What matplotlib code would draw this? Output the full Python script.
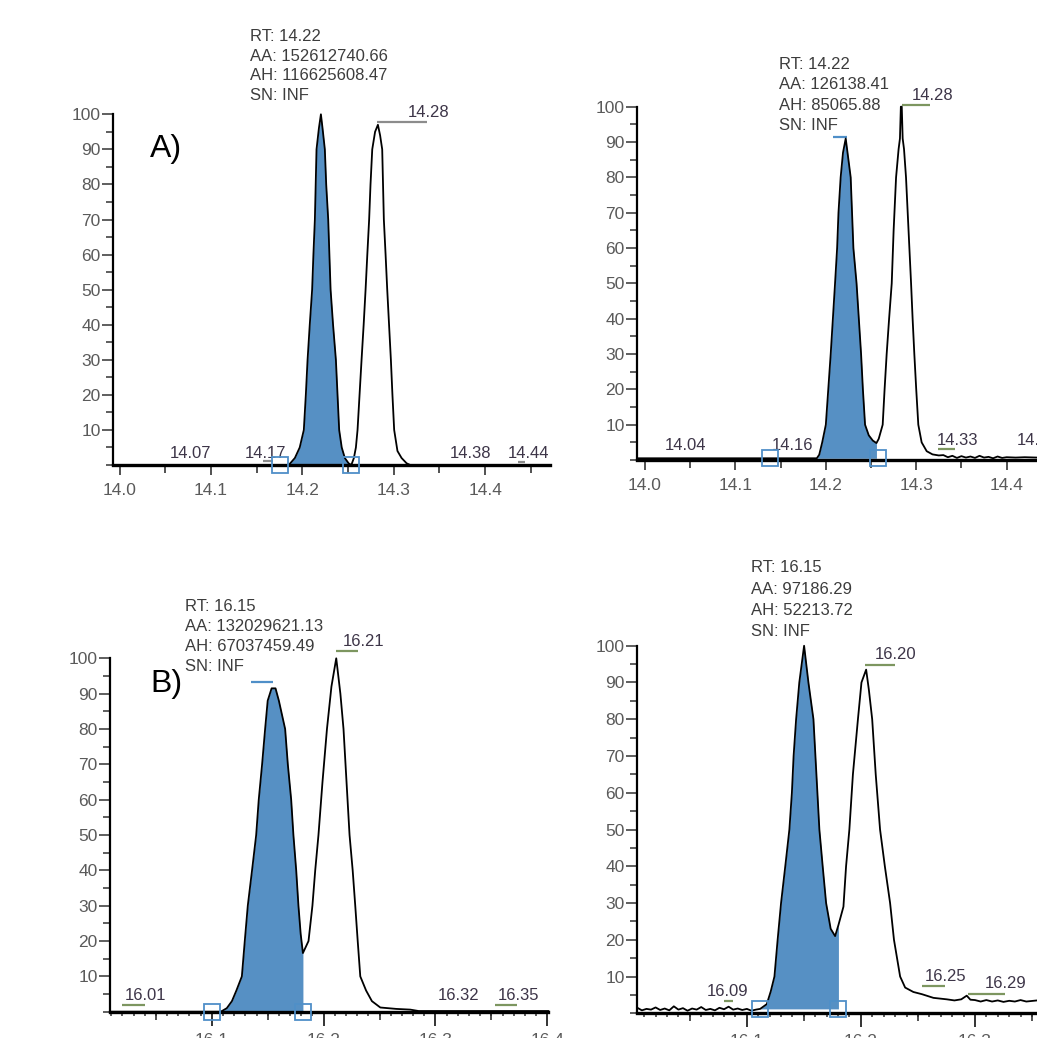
import numpy as np
import matplotlib.pyplot as plt
from matplotlib.ticker import MultipleLocator

plt.rcParams['font.family'] = ['Liberation Sans', 'DejaVu Sans']

# ---- panel A (top left) ----
tA = [13.993, 14.185, 14.1917, 14.197, 14.2015, 14.2037, 14.2056, 14.208, 14.2106, 14.212,
      14.2136, 14.2145, 14.2154, 14.218, 14.2202, 14.222, 14.2245, 14.226, 14.2282, 14.2295,
      14.2308, 14.2335, 14.2366, 14.2384, 14.2402, 14.243, 14.2464, 14.2505, 14.2535, 14.2563,
      14.2585, 14.2603, 14.2625, 14.2647, 14.267, 14.2691, 14.271, 14.273, 14.2745, 14.2764,
      14.2795, 14.2826, 14.285, 14.2873, 14.2882, 14.2891, 14.291, 14.2928, 14.2948, 14.2968,
      14.2985, 14.3004, 14.304, 14.3085, 14.314, 14.318, 14.471]
yA = [0, 0, 2, 5, 10, 20, 30, 40, 50, 60,
      70, 80, 90, 96, 100, 96, 90, 80, 70, 60,
      50, 40, 30, 20, 10, 5, 2, 0.5, 0, 2,
      5, 10, 20, 30, 40, 50, 60, 70, 80, 90,
      95, 97, 94, 90, 80, 70, 60, 50, 40, 30,
      20, 10, 4, 2, 0.5, 0, 0]

# ---- panel B (top right) ----
tB = [13.9915, 14.19, 14.1927, 14.196, 14.2, 14.2027, 14.2054, 14.2078, 14.2102, 14.2125,
      14.214, 14.2164, 14.219, 14.222, 14.2245, 14.2275, 14.229, 14.2305, 14.234, 14.2365,
      14.239, 14.241, 14.2434, 14.2475, 14.252, 14.256, 14.2585, 14.2629, 14.265, 14.2673,
      14.27, 14.2729, 14.275, 14.2777, 14.2805, 14.282, 14.283, 14.284, 14.285, 14.2865,
      14.2887, 14.2915, 14.2943, 14.296, 14.2979, 14.3, 14.3023, 14.306, 14.3116, 14.318,
      14.325, 14.33, 14.335, 14.34, 14.345, 14.35, 14.355, 14.36, 14.365, 14.37,
      14.375, 14.38, 14.385, 14.39, 14.395, 14.4, 14.41, 14.42, 14.4336]
yB = [0.5, 0.5, 1.5, 5, 10, 20, 30, 40, 50, 60,
      70, 80, 87, 91, 86, 80, 70, 60, 50, 40,
      30, 20, 10, 7, 5.5, 4.8, 6, 10, 20, 30,
      40, 50, 65, 80, 88, 91, 100, 100, 91, 88,
      80, 65, 50, 40, 30, 20, 10, 5, 2.5, 1.6,
      1.3, 1.4, 0.8, 1.2, 0.6, 1.1, 0.7, 1.0, 0.6, 1.2,
      0.7, 0.9, 0.5, 1.0, 0.6, 0.8, 0.7, 0.8, 0.7]

# ---- panel C (bottom left) ----
tC = [16.009, 16.108, 16.1134, 16.118, 16.122, 16.1269, 16.1295, 16.1322, 16.136, 16.1397,
      16.142, 16.145, 16.1477, 16.150, 16.1535, 16.157, 16.160, 16.1656, 16.168, 16.171,
      16.173, 16.1755, 16.1775, 16.1795, 16.1815, 16.1865, 16.19, 16.1925, 16.1954, 16.199,
      16.203, 16.207, 16.2113, 16.215, 16.2178, 16.2205, 16.2232, 16.226, 16.2283, 16.2305,
      16.2328, 16.238, 16.2432, 16.2507, 16.265, 16.2775, 16.285, 16.401]
yC = [0, 0, 1, 3, 6, 10, 20, 30, 40, 50,
      60, 70, 80, 88, 91.5, 91.5, 88, 80, 70, 60,
      50, 40, 30, 22, 16.6, 20, 30, 40, 50, 65,
      80, 92, 100, 90, 80, 65, 50, 40, 30, 20,
      10, 6, 3, 1.2, 0.8, 0.6, 0.2, 0.2]

# ---- panel D (bottom right) ----
tD = [16.004, 16.008, 16.012, 16.016, 16.020, 16.024, 16.028, 16.032, 16.036, 16.040,
      16.044, 16.048, 16.052, 16.056, 16.060, 16.064, 16.068, 16.072, 16.076, 16.080,
      16.084, 16.088, 16.092, 16.096, 16.100, 16.104, 16.108, 16.1117,
      16.1175, 16.121, 16.1242, 16.127, 16.13, 16.1337, 16.1373, 16.1395, 16.141, 16.1432,
      16.146, 16.1502, 16.154, 16.1584, 16.161, 16.1636, 16.1665, 16.1695, 16.1735, 16.1774,
      16.1803, 16.1847, 16.187, 16.1899, 16.193, 16.1974, 16.2005, 16.2046, 16.207, 16.2099,
      16.213, 16.2168, 16.221, 16.2256, 16.229, 16.2344, 16.2388, 16.246, 16.2535, 16.2636,
      16.2753, 16.282, 16.288, 16.2928, 16.296, 16.30, 16.305, 16.31, 16.315, 16.32,
      16.325, 16.33, 16.335, 16.34, 16.345, 16.3544]
yD = [1.5, 0.8, 1.2, 1.0, 1.6, 0.9, 1.3, 0.8, 1.9, 1.0,
      1.4, 0.7, 1.3, 1.0, 1.7, 0.9, 1.2, 0.8, 1.5, 1.1,
      1.8, 1.0, 1.3, 0.9, 1.2, 0.7, 1.0, 1.2,
      2.5, 6, 10, 20, 30, 40, 50, 60, 70, 80,
      90, 100, 90, 80, 65, 50, 40, 30, 23, 21,
      24, 29, 40, 50, 65, 80, 90, 93.5, 88, 80,
      65, 50, 40, 30, 20, 10, 7, 5.8, 5.2, 4.2,
      3.8, 3.5, 3.8, 4.8, 3.7, 3.6, 3.2, 3.6, 3.2, 3.5,
      3.1, 3.4, 3.2, 3.6, 3.2, 3.5]

# integration boundaries (the blue boxes) and baseline level
boxesA, baseA = [14.175, 14.2535], 0
boxesB, baseB = [14.1377, 14.258], 0.5
boxesC, baseC = [16.1, 16.1815], 0
boxesD, baseD = [16.1117, 16.1803], 1.2

# peak info text
infoA = ["RT: 14.22", "AA: 152612740.66", "AH: 116625608.47", "SN: INF"]
infoB = ["RT: 14.22", "AA: 126138.41", "AH: 85065.88", "SN: INF"]
infoC = ["RT: 16.15", "AA: 132029621.13", "AH: 67037459.49", "SN: INF"]
infoD = ["RT: 16.15", "AA: 97186.29", "AH: 52213.72", "SN: INF"]

# other peak labels: (text, x, y)
labelsA = [("14.28", 14.3154, 100.6), ("14.07", 14.0548, 3.4), ("14.17", 14.1369, 3.4),
           ("14.38", 14.3614, 3.4), ("14.44", 14.425, 3.4)]
labelsB = [("14.28", 14.2954, 103.2), ("14.04", 14.0221, 4.2), ("14.16", 14.1405, 4.2),
           ("14.33", 14.323, 5.6), ("14.42", 14.4115, 5.6)]
labelsC = [("16.21", 16.2167, 104.8), ("16.01", 16.0224, 4.7), ("16.32", 16.3017, 4.7),
           ("16.35", 16.3554, 4.7)]
labelsD = [("16.20", 16.2124, 97.5), ("16.09", 16.0652, 5.8), ("16.25", 16.2563, 9.9),
           ("16.29", 16.3089, 8.2)]

# small marker lines under labels: (x0, x1, y, colour)
GREEN, GREY, BLUE = '#7d9660', '#8c8c8c', '#4f8fc8'
marksA = [(14.2811, 14.3359, 97.8, GREY), (14.1566, 14.1676, 1.1, GREY), (14.4359, 14.4436, 0.9, GREY)]
marksB = [(14.2843, 14.3153, 100.6, GREEN), (14.3241, 14.343, 3.1, GREEN), (14.208, 14.2235, 91.4, BLUE)]
marksC = [(16.2113, 16.231, 102, GREEN), (16.0197, 16.0403, 1.9, GREEN), (16.3536, 16.3733, 1.9, GREEN),
          (16.1352, 16.1549, 93.3, BLUE)]
marksD = [(16.2037, 16.23, 94.7, GREEN), (16.0801, 16.088, 3.4, GREEN), (16.2537, 16.2738, 7.4, GREEN),
          (16.2939, 16.3264, 5.2, GREEN)]

FILL = '#5690c4'
TXT = '#3d3548'
TICKC = '#5a5a5a'

fig = plt.figure(figsize=(10.37, 10.38), dpi=100)


def panel(rect, t, y, boxes, base, xlim, info, info_x, info_y, info_dy, labels, marks, fine_ticks):
    ax = fig.add_axes(rect)
    t = np.array(t)
    y = np.array(y)
    sel = (t >= boxes[0] - 1e-9) & (t <= boxes[1] + 1e-9)
    ax.fill_between(t, y, base, where=sel, color=FILL, lw=0, clip_on=False)
    ax.plot(t, y, color='black', lw=1.3, clip_on=False, zorder=3)
    ax.plot(boxes, [base, base], ls='none', marker='s', ms=12, mfc='none', mec=BLUE,
            mew=1.3, clip_on=False, zorder=4)
    ax.set_xlim(*xlim)
    ax.set_ylim(0, 100)
    for s in ['top', 'right']:
        ax.spines[s].set_visible(False)
    ax.spines['left'].set_linewidth(1.6)
    ax.spines['bottom'].set_linewidth(2.4)
    ax.set_yticks(range(10, 101, 10))
    ax.yaxis.set_minor_locator(MultipleLocator(5))
    ax.xaxis.set_major_locator(MultipleLocator(0.1))
    ax.xaxis.set_major_formatter(plt.FuncFormatter(lambda v, p: f"{v:.1f}"))
    ax.tick_params(axis='y', which='major', length=8, width=1.1, color='#333333',
                   labelsize=12.5, labelcolor=TICKC, pad=1)
    ax.tick_params(axis='y', which='minor', length=5, width=1.1, color='#333333')
    if fine_ticks:
        ax.xaxis.set_minor_locator(MultipleLocator(0.01))
        ax.tick_params(axis='x', which='major', length=10, width=1.4, color='#333333',
                       labelsize=12.5, labelcolor=TICKC, pad=5)
        ax.tick_params(axis='x', which='minor', length=3, width=1.1, color='#333333')
        sec = ax.secondary_xaxis('bottom')
        sec.set_xticks(np.arange(16.05, 16.45, 0.1))
        sec.set_xticklabels([])
        sec.tick_params(length=6, width=1.2, color='#333333')
        sec.spines['bottom'].set_visible(False)
    else:
        ax.xaxis.set_minor_locator(MultipleLocator(0.05))
        ax.tick_params(axis='x', which='major', length=7, width=1.2, color='#333333',
                       labelsize=12.5, labelcolor=TICKC, pad=6)
        ax.tick_params(axis='x', which='minor', length=6, width=1.2, color='#333333')
    for i, line in enumerate(info):
        ax.text(info_x, info_y - i * info_dy, line, fontsize=12, color='#3c3c3c',
                ha='left', va='center', clip_on=False)
    for txt, lx, ly in labels:
        ax.text(lx, ly, txt, fontsize=12, color=TXT, ha='left', va='center', clip_on=False)
    for x0, x1, my, c in marks:
        ax.plot([x0, x1], [my, my], color=c, lw=1.6, clip_on=False, solid_capstyle='butt')
    return ax


axA = panel([0.1093, 0.552, 0.4211, 0.3379], tA, yA, boxesA, baseA, (13.993, 14.471),
            infoA, 14.1424, 122.2, 5.6, labelsA, marksA, False)
axB = panel([0.6146, 0.5568, 0.3854, 0.3404], tB, yB, boxesB, baseB, (13.9915, 14.4336),
            infoB, 14.1482, 111.9, 5.75, labelsB, marksB, False)
axC = panel([0.1061, 0.0253, 0.4227, 0.3405], tC, yC, boxesC, baseC, (16.009, 16.401),
            infoC, 16.0761, 114.7, 5.7, labelsC, marksC, True)
axD = panel([0.6146, 0.0238, 0.3854, 0.3541], tD, yD, boxesD, baseD, (16.004, 16.3544),
            infoD, 16.1038, 121.2, 5.8, labelsD, marksD, True)

axA.text(14.033, 90.1, "A)", fontsize=23, color='black', ha='left', va='center')
axC.text(16.0448, 92.8, "B)", fontsize=23, color='black', ha='left', va='center')

fig.savefig("out.png", dpi=100)
